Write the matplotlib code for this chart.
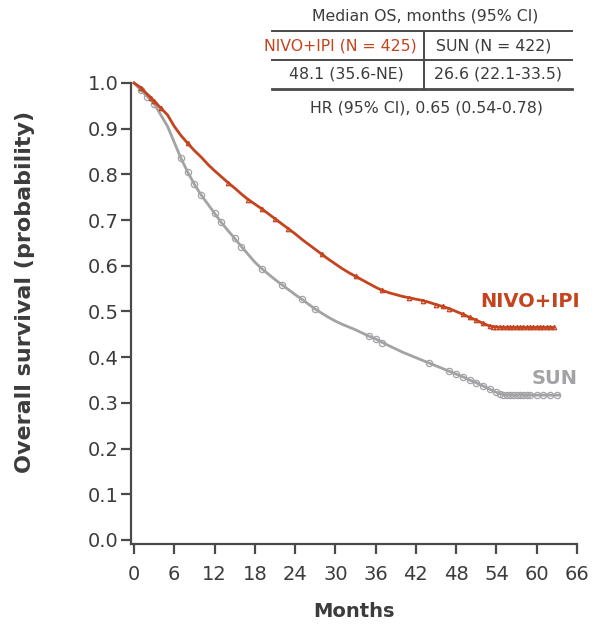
import numpy as np
import matplotlib
matplotlib.use("Agg")
import matplotlib.pyplot as plt
from matplotlib.lines import Line2D

# DATA
months = list(range(0, 63)) + [62.5]

nivo_ipi = [1.000, 0.990, 0.975, 0.960, 0.945, 0.930, 0.905, 0.885, 0.868, 0.852,
            0.838, 0.822, 0.808, 0.795, 0.782, 0.770, 0.757, 0.745, 0.735, 0.725,
            0.714, 0.703, 0.692, 0.681, 0.670, 0.658, 0.647, 0.636, 0.625, 0.614,
            0.604, 0.594, 0.585, 0.577, 0.569, 0.561, 0.553, 0.546, 0.541, 0.537,
            0.533, 0.530, 0.527, 0.524, 0.520, 0.515, 0.511, 0.506, 0.500, 0.494,
            0.487, 0.481, 0.474, 0.468, 0.466, 0.465, 0.465, 0.465, 0.465, 0.465,
            0.465, 0.465, 0.465, 0.465]

sun_months = list(range(0, 64)) + [63.4]

sun = [1.000, 0.985, 0.970, 0.955, 0.930, 0.905, 0.870, 0.835, 0.805, 0.778,
       0.755, 0.735, 0.715, 0.695, 0.677, 0.660, 0.642, 0.625, 0.608, 0.594,
       0.582, 0.570, 0.559, 0.548, 0.537, 0.527, 0.516, 0.505, 0.496, 0.487,
       0.479, 0.472, 0.466, 0.460, 0.453, 0.446, 0.440, 0.432, 0.425, 0.418,
       0.411, 0.405, 0.399, 0.393, 0.387, 0.381, 0.375, 0.369, 0.363, 0.357,
       0.350, 0.344, 0.337, 0.330, 0.323, 0.318, 0.317, 0.317, 0.317, 0.317,
       0.317, 0.317, 0.317, 0.317, 0.317]

# censoring times
nivo_cens = [1, 2.5, 3, 4, 8, 14, 17, 19, 21, 23, 28, 33, 37, 41, 43, 45, 46, 47,
             49, 50, 51, 52, 53, 53.5, 54, 54.5, 55, 55.5, 56, 56.5, 57, 57.5, 58,
             58.5, 59, 59.5, 60, 60.5, 61, 61.5, 62, 62.5]
sun_cens = [1, 2, 3, 7, 8, 9, 10, 12, 13, 15, 16, 19, 22, 25, 27, 35, 36, 37, 44,
            47, 48, 49, 50, 51, 52, 53, 54, 54.5, 55, 55.5, 56, 56.5, 57, 57.5,
            58, 58.5, 59, 60, 61, 62, 63]

x_ticks = list(range(0, 67, 6))
y_ticks = [0.0, 0.1, 0.2, 0.3, 0.4, 0.5, 0.6, 0.7, 0.8, 0.9, 1.0]

RED = "#c4441e"
GREY = "#a3a2a5"
AXC = "#4a4a4a"
TXT = "#3c3c3c"

W, H = 594, 631
fig = plt.figure(figsize=(W / 100, H / 100), dpi=100)
ax = fig.add_axes([131 / W, 1 - 544 / H, (577 - 131) / W, (544 - 83) / H])

ax.plot(sun_months, sun, color=GREY, lw=2, clip_on=False, zorder=3)
ax.plot(sun_cens, np.interp(sun_cens, sun_months, sun), ls="none", marker="o",
        ms=4.5, mfc="none", mec=GREY, mew=0.9, clip_on=False, zorder=3)
ax.plot(months, nivo_ipi, color=RED, lw=2, clip_on=False, zorder=4)
ax.plot(nivo_cens, np.interp(nivo_cens, months, nivo_ipi), ls="none", marker="^",
        ms=3.2, mfc="none", mec=RED, mew=0.9, clip_on=False, zorder=4)

ax.set_xlim(-0.45, 66)
ax.set_ylim(-0.0088, 1.0)
ax.set_xticks(x_ticks)
ax.set_yticks(y_ticks)
ax.set_yticklabels([f"{v:.1f}" for v in y_ticks])

for s in ["top", "right"]:
    ax.spines[s].set_visible(False)
for s in ["left", "bottom"]:
    ax.spines[s].set_color(AXC)
    ax.spines[s].set_linewidth(1.6)
ax.tick_params(axis="both", direction="out", length=7, width=1.6, color=AXC,
               labelcolor=TXT, labelsize=14)
ax.tick_params(axis="x", pad=8)
ax.tick_params(axis="y", pad=2)

ax.set_xlabel("Months", fontsize=14, color=TXT, fontweight="bold", labelpad=13)
fig.text(25 / W, 1 - 292 / H, "Overall survival (probability)", rotation=90,
         ha="center", va="center", fontsize=16, color=TXT, fontweight="bold")

# curve labels
fig.text(580 / W, 1 - 302 / H, "NIVO+IPI", ha="right", va="center",
         fontsize=14, color=RED, fontweight="bold")
fig.text(578 / W, 1 - 378 / H, "SUN", ha="right", va="center",
         fontsize=14, color=GREY, fontweight="bold")

# median OS table
def fx(px):
    return px / W

def fy(py):
    return 1 - py / H

TS = 11.3
fig.text(fx(425), fy(16), "Median OS, months (95% CI)", ha="center", va="center",
         fontsize=TS, color=TXT)
fig.text(fx(340), fy(46), "NIVO+IPI (N = 425)", ha="center", va="center",
         fontsize=TS, color=RED)
fig.text(fx(494), fy(46), "SUN (N = 422)", ha="center", va="center",
         fontsize=TS, color=TXT)
fig.text(fx(346), fy(74), "48.1 (35.6-NE)", ha="center", va="center",
         fontsize=TS, color=TXT)
fig.text(fx(498), fy(74), "26.6 (22.1-33.5)", ha="center", va="center",
         fontsize=TS, color=TXT)
fig.text(fx(427), fy(108), "HR (95% CI), 0.65 (0.54-0.78)", ha="center",
         va="center", fontsize=TS, color=TXT)

for py, lw in [(31, 1.4), (60, 1.4), (89, 2.0)]:
    fig.add_artist(Line2D([fx(272), fx(572)], [fy(py), fy(py)], color=AXC, lw=lw))
fig.add_artist(Line2D([fx(424), fx(424)], [fy(31), fy(89)], color=AXC, lw=1.4))

fig.savefig("out.png", dpi=100)
